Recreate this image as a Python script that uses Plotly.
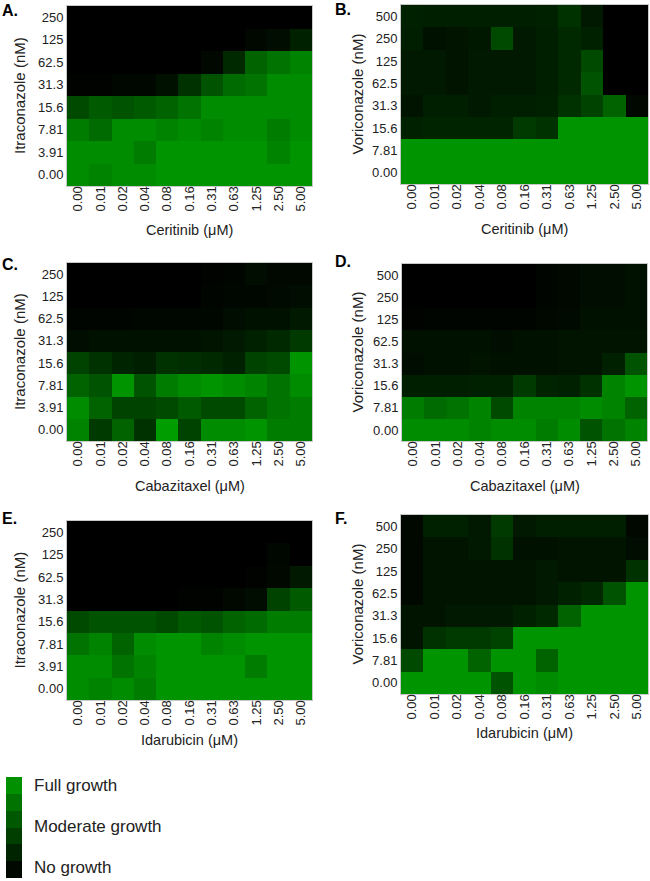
import plotly.graph_objects as go

W, H = 650, 881

x_labels = ["0.00", "0.01", "0.02", "0.04", "0.08", "0.16", "0.31", "0.63", "1.25", "2.50", "5.00"]
itra_labels = ["250", "125", "62.5", "31.3", "15.6", "7.81", "3.91", "0.00"]   # top -> bottom
vori_labels = ["500", "250", "125", "62.5", "31.3", "15.6", "7.81", "0.00"]    # top -> bottom

# growth level (0 = no growth, 1 = full growth), rows top -> bottom
growth_A = [
    [0, 0, 0, 0, 0, 0, 0, 0, 0, 0, 0],
    [0, 0, 0, 0, 0, 0, 0, 0, 0.05, 0.08, 0.2],
    [0, 0, 0, 0, 0, 0, 0.05, 0.25, 0.6, 0.7, 0.8],
    [0.02, 0.02, 0.04, 0.04, 0.1, 0.3, 0.5, 0.65, 0.7, 0.85, 0.85],
    [0.45, 0.55, 0.5, 0.55, 0.6, 0.7, 0.85, 0.85, 0.85, 0.85, 0.85],
    [0.75, 0.65, 0.85, 0.85, 0.8, 0.85, 0.8, 0.85, 0.85, 0.75, 0.85],
    [0.85, 0.85, 0.85, 0.75, 0.9, 0.9, 0.9, 0.9, 0.9, 0.8, 0.9],
    [0.85, 0.8, 0.85, 0.85, 0.9, 0.9, 0.9, 0.9, 0.9, 0.9, 0.9],
]
growth_B = [
    [0.2, 0.18, 0.18, 0.18, 0.18, 0.18, 0.2, 0.3, 0.15, 0, 0],
    [0.18, 0.1, 0.12, 0.14, 0.45, 0.15, 0.18, 0.25, 0.2, 0, 0],
    [0.15, 0.15, 0.12, 0.15, 0.15, 0.15, 0.18, 0.25, 0.45, 0, 0],
    [0.15, 0.15, 0.12, 0.15, 0.15, 0.15, 0.18, 0.25, 0.5, 0, 0],
    [0.12, 0.18, 0.18, 0.15, 0.18, 0.18, 0.2, 0.3, 0.4, 0.6, 0.05],
    [0.2, 0.22, 0.22, 0.22, 0.22, 0.35, 0.3, 0.9, 0.9, 0.9, 0.9],
    [0.9, 0.9, 0.9, 0.9, 0.9, 0.9, 0.9, 0.9, 0.9, 0.9, 0.9],
    [0.9, 0.9, 0.9, 0.9, 0.9, 0.9, 0.9, 0.9, 0.9, 0.9, 0.9],
]
growth_C = [
    [0, 0, 0, 0, 0, 0, 0.02, 0.03, 0.08, 0.05, 0.05],
    [0, 0, 0, 0, 0, 0, 0.03, 0.04, 0.04, 0.06, 0.08],
    [0.03, 0.03, 0.03, 0.04, 0.04, 0.04, 0.04, 0.08, 0.1, 0.1, 0.15],
    [0.08, 0.1, 0.1, 0.1, 0.1, 0.1, 0.12, 0.15, 0.2, 0.25, 0.35],
    [0.4, 0.3, 0.22, 0.18, 0.3, 0.28, 0.25, 0.2, 0.4, 0.45, 0.9],
    [0.6, 0.5, 0.9, 0.5, 0.75, 0.85, 0.9, 0.85, 0.8, 0.7, 0.85],
    [0.85, 0.6, 0.4, 0.4, 0.45, 0.55, 0.45, 0.45, 0.6, 0.7, 0.75],
    [0.8, 0.35, 0.6, 0.3, 0.95, 0.4, 0.85, 0.85, 0.9, 0.75, 0.75],
]
growth_D = [
    [0, 0, 0, 0, 0, 0, 0.03, 0.05, 0.08, 0.08, 0.1],
    [0, 0, 0, 0, 0, 0, 0.03, 0.05, 0.08, 0.08, 0.1],
    [0.02, 0.03, 0.03, 0.03, 0.03, 0.03, 0.05, 0.06, 0.1, 0.1, 0.1],
    [0.1, 0.1, 0.1, 0.1, 0.08, 0.1, 0.1, 0.12, 0.12, 0.12, 0.12],
    [0.08, 0.1, 0.1, 0.12, 0.1, 0.1, 0.1, 0.12, 0.12, 0.2, 0.5],
    [0.18, 0.18, 0.18, 0.2, 0.2, 0.35, 0.22, 0.2, 0.3, 0.8, 0.9],
    [0.75, 0.65, 0.7, 0.8, 0.45, 0.8, 0.8, 0.8, 0.85, 0.8, 0.6],
    [0.85, 0.85, 0.85, 0.8, 0.85, 0.85, 0.75, 0.85, 0.5, 0.7, 0.8],
]
growth_E = [
    [0, 0, 0, 0, 0, 0, 0, 0, 0, 0, 0],
    [0, 0, 0, 0, 0, 0, 0, 0, 0, 0.04, 0],
    [0, 0, 0, 0, 0, 0, 0, 0, 0.02, 0.05, 0.15],
    [0, 0, 0, 0, 0, 0.02, 0.02, 0.05, 0.08, 0.4, 0.55],
    [0.45, 0.5, 0.5, 0.5, 0.45, 0.55, 0.5, 0.6, 0.65, 0.75, 0.75],
    [0.7, 0.8, 0.6, 0.85, 0.9, 0.9, 0.8, 0.85, 0.9, 0.9, 0.9],
    [0.85, 0.85, 0.7, 0.8, 0.9, 0.9, 0.9, 0.9, 0.75, 0.9, 0.9],
    [0.85, 0.8, 0.85, 0.75, 0.9, 0.9, 0.9, 0.9, 0.9, 0.9, 0.9],
]
growth_F = [
    [0.05, 0.2, 0.2, 0.15, 0.35, 0.15, 0.18, 0.18, 0.18, 0.18, 0.05],
    [0.05, 0.12, 0.12, 0.15, 0.3, 0.1, 0.1, 0.12, 0.12, 0.12, 0.08],
    [0.05, 0.12, 0.12, 0.12, 0.12, 0.12, 0.15, 0.12, 0.12, 0.12, 0.3],
    [0.05, 0.12, 0.12, 0.12, 0.12, 0.12, 0.15, 0.2, 0.25, 0.5, 0.9],
    [0.12, 0.12, 0.15, 0.15, 0.15, 0.2, 0.25, 0.6, 0.9, 0.9, 0.9],
    [0.12, 0.3, 0.35, 0.35, 0.4, 0.9, 0.9, 0.9, 0.9, 0.9, 0.9],
    [0.45, 0.9, 0.9, 0.6, 0.9, 0.9, 0.6, 0.9, 0.9, 0.9, 0.9],
    [0.9, 0.9, 0.9, 0.9, 0.5, 0.9, 0.85, 0.9, 0.9, 0.9, 0.9],
]

legend_levels = [0.05, 0.22, 0.38, 0.54, 0.70, 0.87]   # bottom -> top
legend_labels = ["Full growth", "Moderate growth", "No growth"]

FONT = "Arial, Liberation Sans, sans-serif"
cscale = [[0, "rgb(0,0,0)"], [1, "rgb(0,165,0)"]]

def px(x):
    return x / W

def py(y):
    return 1 - y / H

# (label, z, y labels, x title, y title, x0, x1, top, bottom, label x, label y, x-title y, y-title x)
panels = [
    ("A.", growth_A, itra_labels, "Ceritinib (μM)", "Itraconazole (nM)", 67, 312, 6, 186, 0, 10, 230, 19),
    ("B.", growth_B, vori_labels, "Ceritinib (μM)", "Voriconazole (nM)", 401, 648, 5, 184, 333, 9, 229, 357),
    ("C.", growth_C, itra_labels, "Cabazitaxel (μM)", "Itraconazole (nM)", 67, 312, 263, 441, 0, 264, 486, 19),
    ("D.", growth_D, vori_labels, "Cabazitaxel (μM)", "Voriconazole (nM)", 402, 647, 264, 441, 333, 262, 486, 357),
    ("E.", growth_E, itra_labels, "Idarubicin (μM)", "Itraconazole (nM)", 67, 312, 521, 700, 0, 518, 740, 19),
    ("F.", growth_F, vori_labels, "Idarubicin (μM)", "Voriconazole (nM)", 401, 648, 515, 694, 333, 518, 733, 357),
]

fig = go.Figure()
annotations = []
layout = {}

for i, (lab, z, ylabs, xt, yt, x0, x1, yt0, yb1, lx, ly, xty, ytx) in enumerate(panels):
    n = i + 1
    xa = "x" if n == 1 else f"x{n}"
    ya = "y" if n == 1 else f"y{n}"
    fig.add_trace(go.Heatmap(
        z=z[::-1], x=x_labels, y=ylabs[::-1],
        colorscale=cscale, zmin=0, zmax=1, showscale=False,
        xaxis=xa, yaxis=ya, xgap=0, ygap=0,
    ))
    xk = "xaxis" if n == 1 else f"xaxis{n}"
    yk = "yaxis" if n == 1 else f"yaxis{n}"
    layout[xk] = dict(
        domain=[px(x0), px(x1)], anchor=ya, type="category",
        tickangle=-90, tickfont=dict(family=FONT, size=13, color="#222"),
        showgrid=False, zeroline=False, ticks="", ticklen=0, ticklabelstandoff=-6,
        showline=True, linecolor="#c8c8c8", linewidth=1, mirror=True,
    )
    layout[yk] = dict(
        domain=[py(yb1), py(yt0)], anchor=xa, type="category",
        tickfont=dict(family=FONT, size=13, color="#222"),
        showgrid=False, zeroline=False, ticks="", ticklen=0,
        showline=True, linecolor="#c8c8c8", linewidth=1, mirror=True,
    )
    annotations.append(dict(text=f"<b>{lab}</b>", x=px(lx), y=py(ly), xref="paper", yref="paper",
                            xanchor="left", yanchor="middle", showarrow=False,
                            font=dict(family=FONT, size=16, color="black")))
    annotations.append(dict(text=xt, x=px((x0 + x1) / 2), y=py(xty), xref="paper", yref="paper",
                            xanchor="center", yanchor="middle", showarrow=False,
                            font=dict(family=FONT, size=14.5, color="#222")))
    annotations.append(dict(text=yt, x=px(ytx), y=py((yt0 + yb1) / 2), xref="paper", yref="paper",
                            xanchor="center", yanchor="middle", showarrow=False, textangle=-90,
                            font=dict(family=FONT, size=15, color="#222")))

# legend colour strip
fig.add_trace(go.Heatmap(
    z=[[v] for v in legend_levels], x=["g"], y=list(range(len(legend_levels))),
    colorscale=cscale, zmin=0, zmax=1, showscale=False, xaxis="x7", yaxis="y7", hoverinfo="skip",
))
layout["xaxis7"] = dict(domain=[px(6), px(22)], anchor="y7", visible=False)
layout["yaxis7"] = dict(domain=[py(878), py(777)], anchor="x7", visible=False)

for txt, yy in zip(legend_labels, [785, 826, 867]):
    annotations.append(dict(text=txt, x=px(32), y=py(yy), xref="paper", yref="paper",
                            xanchor="left", yanchor="middle", showarrow=False,
                            font=dict(family=FONT, size=17, color="#222")))

fig.update_layout(
    width=W, height=H, margin=dict(l=0, r=0, t=0, b=0),
    paper_bgcolor="white", plot_bgcolor="white",
    annotations=annotations, showlegend=False, **layout,
)

fig.write_html("out.html", config={"displayModeBar": False},
               post_script="document.body.style.margin='0';document.body.style.overflow='hidden';")
